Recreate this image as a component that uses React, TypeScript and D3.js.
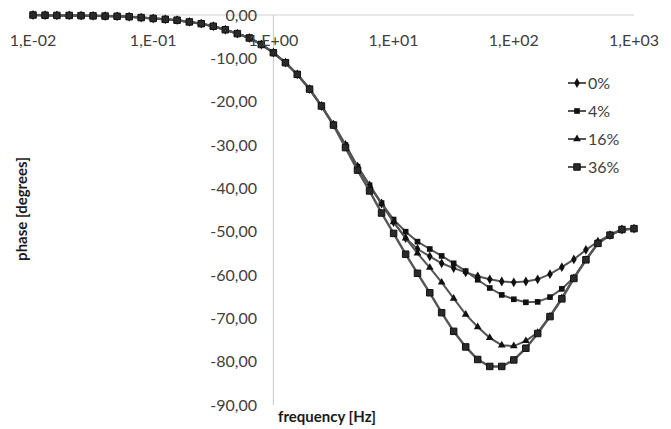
import React from "react";
import * as d3 from "d3";

// frequency points, 10 per decade [Hz]
const freq = [
  0.01, 0.0126, 0.0158, 0.02, 0.0251, 0.0316, 0.0398, 0.0501, 0.0631, 0.0794,
  0.1, 0.126, 0.158, 0.2, 0.251, 0.316, 0.398, 0.501, 0.631, 0.794,
  1, 1.26, 1.58, 2, 2.51, 3.16, 3.98, 5.01, 6.31, 7.94,
  10, 12.6, 15.8, 20, 25.1, 31.6, 39.8, 50.1, 63.1, 79.4,
  100, 126, 158, 200, 251, 316, 398, 501, 631, 794,
  1000,
];

// phase [degrees]
const phase0 = [
  0, -0.05, -0.1, -0.1, -0.15, -0.2, -0.25, -0.3, -0.4, -0.6,
  -0.8, -1.0, -1.2, -1.6, -2.0, -2.6, -3.4, -4.3, -5.3, -6.8,
  -8.7, -11.0, -13.7, -17.1, -21.0, -25.3, -30.0, -35.0, -39.3, -43.5,
  -47.8, -51.5, -54.0, -55.7, -57.3, -58.4, -59.4, -60.3, -61.0, -61.5,
  -61.7, -61.5, -61.0, -59.8, -58.2, -56.4, -54.2, -52.3, -50.8, -49.5,
  -49.3,
];
const phase4 = [
  0, -0.05, -0.1, -0.1, -0.15, -0.2, -0.25, -0.3, -0.4, -0.6,
  -0.8, -1.0, -1.2, -1.6, -2.0, -2.6, -3.4, -4.3, -5.3, -6.8,
  -8.7, -11.0, -13.7, -17.1, -21.0, -25.3, -30.0, -35.0, -39.3, -43.4,
  -47.2, -50.0, -52.3, -54.0, -55.6, -57.3, -59.1, -61.1, -63.0, -64.6,
  -65.6, -66.3, -66.2, -65.1, -63.2, -60.6, -56.5, -52.7, -50.8, -49.5,
  -49.3,
];
const phase16 = [
  0, -0.05, -0.1, -0.1, -0.15, -0.2, -0.25, -0.3, -0.4, -0.6,
  -0.8, -1.0, -1.2, -1.6, -2.0, -2.6, -3.4, -4.3, -5.3, -6.8,
  -8.7, -11.0, -13.7, -17.1, -21.0, -25.3, -30.0, -35.0, -39.4, -43.6,
  -47.8, -51.5, -55.0, -58.3, -61.7, -65.4, -69.1, -72.0, -74.5, -76.2,
  -76.4, -75.2, -73.3, -69.5, -65.3, -60.7, -56.5, -52.7, -50.8, -49.5,
  -49.3,
];
const phase36 = [
  0, -0.05, -0.1, -0.1, -0.15, -0.2, -0.25, -0.3, -0.4, -0.6,
  -0.8, -1.0, -1.2, -1.6, -2.0, -2.6, -3.4, -4.3, -5.3, -6.8,
  -8.7, -11.0, -13.7, -17.1, -21.0, -25.4, -30.6, -35.8, -40.6, -45.7,
  -50.4, -55.2, -59.6, -64.1, -68.7, -73.0, -76.6, -79.5, -81.1, -81.1,
  -79.6, -76.9, -73.5, -69.6, -65.5, -60.8, -56.5, -52.7, -50.8, -49.5,
  -49.3,
];

const seriesNames = ["0%", "4%", "16%", "36%"];
const seriesValues = [phase0, phase4, phase16, phase36];
const seriesSymbols = [d3.symbolDiamond, d3.symbolSquare, d3.symbolTriangle, d3.symbolSquare];
const symbolSizes = [28, 32, 26, 42];

const xTicks = [0.01, 0.1, 1, 10, 100, 1000];
const xTickLabels = ["1,E-02", "1,E-01", "1,E+00", "1,E+01", "1,E+02", "1,E+03"];
const yTicks = [0, -10, -20, -30, -40, -50, -60, -70, -80, -90];

const W = 671;
const H = 429;
const FONT = "Lato, 'Open Sans', sans-serif";

export default function App() {
  const x = d3.scaleLog().domain([0.01, 1000]).range([33, 634]);
  const y = d3.scaleLinear().domain([0, -90]).range([15, 405]);

  const line = d3
    .line<number>()
    .x((_, i) => x(freq[i]))
    .y((d) => y(d));

  const fmtY = (v: number) => v.toFixed(2).replace(".", ",");

  return (
    <svg width={W} height={H} style={{ position: "absolute", left: 0, top: 0 }} fontFamily={FONT}>
      <rect width={W} height={H} fill="#fff" />
      {/* axes */}
      <line x1={x(0.01)} x2={x(1000)} y1={y(0)} y2={y(0)} stroke="#d0d0d0" strokeWidth={1.2} />
      <line x1={x(1)} x2={x(1)} y1={y(0)} y2={y(-90)} stroke="#d0d0d0" strokeWidth={1.2} />

      {yTicks.map((t) => (
        <text key={"y" + t} x={257} y={y(t)} dy="0.35em" textAnchor="end" fontSize={16} fill="#404040">
          {fmtY(t)}
        </text>
      ))}

      {/* series */}
      {seriesValues.map((vals, si) => (
        <g key={"s" + si}>
          <path d={line(vals) || ""} fill="none" stroke="#555" strokeWidth={si === 3 ? 2.4 : 2} />
          {vals.map((v, i) => (
            <path
              key={i}
              transform={`translate(${x(freq[i])},${y(v)})`}
              d={d3.symbol().type(seriesSymbols[si]).size(symbolSizes[si])() || ""}
              fill={si === 3 ? "#2a2a2a" : "#111"}
              stroke={si === 3 ? "#111" : "none"}
              strokeWidth={1}
            />
          ))}
        </g>
      ))}

      {xTicks.map((t, i) => (
        <text key={"x" + t} x={x(t)} y={40} dy="0.35em" textAnchor="middle" fontSize={16} fill="#404040">
          {xTickLabels[i]}
        </text>
      ))}

      {/* legend */}
      {seriesNames.map((name, si) => {
        const ly = 83 + si * 28;
        return (
          <g key={"l" + si}>
            <line x1={568} x2={586} y1={ly} y2={ly} stroke="#555" strokeWidth={2} />
            <path
              transform={`translate(577,${ly})`}
              d={d3.symbol().type(seriesSymbols[si]).size(symbolSizes[si])() || ""}
              fill={si === 3 ? "#2a2a2a" : "#111"}
              stroke={si === 3 ? "#111" : "none"}
            />
            <text x={588} y={ly} dy="0.35em" fontSize={16} fill="#404040">
              {name}
            </text>
          </g>
        );
      })}

      {/* axis titles */}
      <text
        transform="translate(22,209) rotate(-90)"
        textAnchor="middle"
        dy="0.35em"
        fontSize={15}
        fontWeight="bold"
        fill="#1a1a1a"
      >
        phase [degrees]
      </text>
      <text x={278} y={417} dy="0.35em" fontSize={15} fontWeight="bold" fill="#1a1a1a">
        frequency [Hz]
      </text>
    </svg>
  );
}
